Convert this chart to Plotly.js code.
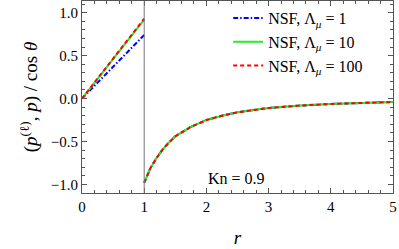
<!DOCTYPE html>
<html>
<head>
<meta charset="utf-8">
<script src="https://cdn.plot.ly/plotly-3.0.1.min.js"></script>
<style>html,body{margin:0;padding:0;background:#fff;}#chart{width:399px;height:249px;}</style>
</head>
<body>
<div id="chart"></div>
<script>
// inner region r in [0,1]
var rInner = [0, 0.25, 0.5, 0.75, 1];
var pInner1 = [0, 0.185, 0.37, 0.555, 0.74];
var pInner10 = [0, 0.23, 0.46, 0.69, 0.92];
var pInner100 = [0, 0.232, 0.465, 0.697, 0.93];
// outer region r in [1,5]
var rOuter = [1, 1.05, 1.1, 1.2, 1.3, 1.4, 1.5, 1.75, 2, 2.25, 2.5, 3, 3.5, 4, 4.5, 5];
var pOuter1 = [-0.98, -0.89, -0.81, -0.69, -0.59, -0.51, -0.44, -0.33, -0.25, -0.2, -0.16, -0.11, -0.082, -0.063, -0.05, -0.04];
var pOuter10 = [-0.98, -0.89, -0.81, -0.69, -0.59, -0.51, -0.44, -0.33, -0.25, -0.2, -0.16, -0.11, -0.082, -0.063, -0.05, -0.04];
var pOuter100 = [-0.98, -0.89, -0.81, -0.69, -0.59, -0.51, -0.44, -0.33, -0.25, -0.2, -0.16, -0.11, -0.082, -0.063, -0.05, -0.04];
var seriesNames = ['NSF, Λ<sub><i>μ</i></sub>\u00a0=\u00a01', 'NSF, Λ<sub><i>μ</i></sub>\u00a0=\u00a010', 'NSF, Λ<sub><i>μ</i></sub>\u00a0=\u00a0100'];
var knLabel = 'Kn\u00a0=\u00a00.9';
var interfaceR = 1;
var xTicks = [0, 1, 2, 3, 4, 5];
var yTicks = [-1, -0.5, 0, 0.5, 1];

function join(inner, outer) { return inner.concat([null], outer); }
var xs = rInner.concat([null], rOuter);

var serif = '"Liberation Serif", "Times New Roman", serif';
var traces = [
  {x: xs, y: join(pInner1, pOuter1), name: seriesNames[0], mode: 'lines', connectgaps: false,
   line: {color: '#0000ff', width: 2, dash: '5px,2px,1.5px,2px'}},
  {x: xs, y: join(pInner10, pOuter10), name: seriesNames[1], mode: 'lines', connectgaps: false,
   line: {color: '#22ee22', width: 2, dash: 'solid'}},
  {x: xs, y: join(pInner100, pOuter100), name: seriesNames[2], mode: 'lines', connectgaps: false,
   line: {color: '#ff0000', width: 2, dash: '4px,3px'}}
];

var layout = {
  width: 399, height: 249,
  margin: {l: 82, r: 6, t: 1, b: 56},
  paper_bgcolor: '#fff', plot_bgcolor: '#fff',
  font: {family: serif, size: 14, color: '#000'},
  showlegend: true,
  legend: {x: 0.47, y: 1.0, xanchor: 'left', yanchor: 'top', bgcolor: 'rgba(0,0,0,0)',
           font: {family: serif, size: 16, color: '#000'}, tracegroupgap: 0},
  xaxis: {
    showgrid: false, zeroline: false, showline: true, mirror: 'ticks',
    linecolor: '#555', linewidth: 1, ticks: 'inside', tickcolor: '#555', ticklen: 5,
    tickfont: {family: serif, size: 15, color: '#000'},
    range: [0, 5], tickvals: xTicks, ticktext: xTicks.map(String),
    minor: {dtick: 0.2, ticklen: 3, ticks: 'inside', tickcolor: '#555'},
    title: {text: '<i>r</i>', font: {family: serif, size: 19, color: '#000'}, standoff: 16}
  },
  yaxis: {
    showgrid: false, zeroline: false, showline: true, mirror: 'ticks',
    linecolor: '#555', linewidth: 1, ticks: 'inside', tickcolor: '#555', ticklen: 5,
    tickfont: {family: serif, size: 15, color: '#000'},
    range: [-1.1, 1.136], tickvals: yTicks, tickformat: '.1f',
    minor: {dtick: 0.1, ticklen: 3, ticks: 'inside', tickcolor: '#555'},
    title: {text: '(<i>p</i><sup>(ℓ)</sup>, <i>p</i>) / cos <i>θ</i>', font: {family: serif, size: 19, color: '#000'}, standoff: 8}
  },
  shapes: [{type: 'line', xref: 'x', yref: 'paper', x0: interfaceR, x1: interfaceR, y0: 0, y1: 1,
            line: {color: '#777', width: 1}}],
  annotations: [{text: knLabel, xref: 'x', yref: 'y', x: 2.0, y: -0.93, xanchor: 'left', yanchor: 'middle',
                 showarrow: false, font: {family: serif, size: 16, color: '#000'}}]
};

Plotly.newPlot('chart', traces, layout, {staticPlot: true, displayModeBar: false});
</script>
</body>
</html>
